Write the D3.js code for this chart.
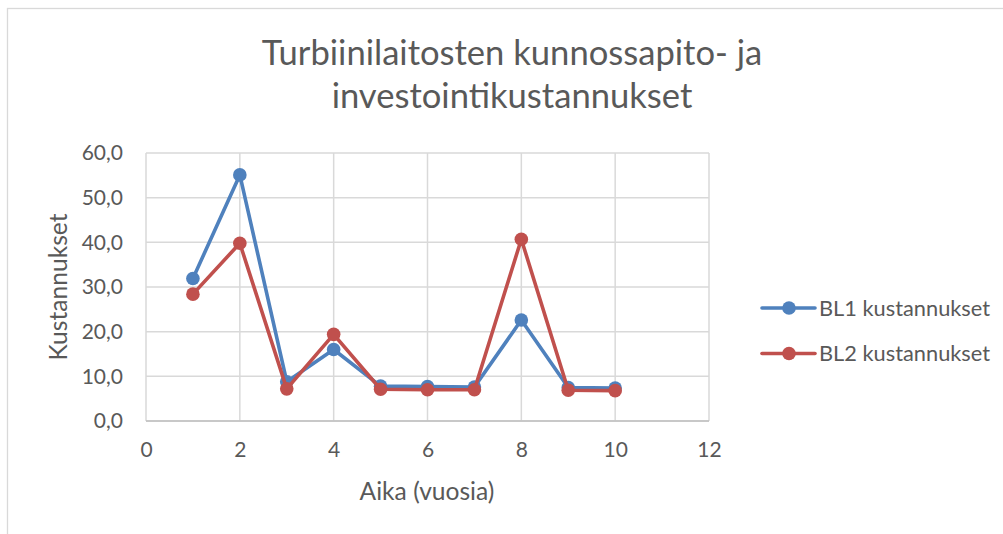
<!DOCTYPE html>
<html>
<head>
<meta charset="utf-8">
<script src="https://cdn.jsdelivr.net/npm/d3@7"></script>
<style>
  html, body { margin: 0; padding: 0; background: #fff; }
  svg { display: block; font-family: Lato, "Open Sans", sans-serif; }
</style>
</head>
<body>
<svg id="chart" width="1003" height="534"></svg>
<script>
// ---- Data ----
const years = [1, 2, 3, 4, 5, 6, 7, 8, 9, 10];
const bl1 = [31.9, 55.1, 8.8, 16.0, 7.8, 7.7, 7.6, 22.6, 7.5, 7.4];
const bl2 = [28.4, 39.8, 7.2, 19.4, 7.1, 7.0, 7.0, 40.7, 6.9, 6.8];
const seriesNames = ["BL1 kustannukset", "BL2 kustannukset"];
const xTicks = [0, 2, 4, 6, 8, 10, 12];
const yTicks = [0, 10, 20, 30, 40, 50, 60];
const titleLines = ["Turbiinilaitosten kunnossapito- ja", "investointikustannukset"];
const xTitle = "Aika (vuosia)";
const yTitle = "Kustannukset";

const colors = ["#4f81bd", "#c0504d"];
const textColor = "#595959";

const svg = d3.select("#chart");

// chart area border
svg.append("rect")
  .attr("x", 7.5).attr("y", 8.5)
  .attr("width", 1100).attr("height", 600)
  .attr("fill", "#fff").attr("stroke", "#d9d9d9").attr("stroke-width", 1.3);

const plot = { left: 146, right: 709, top: 153, bottom: 421 };

const x = d3.scaleLinear().domain([0, 12]).range([plot.left, plot.right]);
const y = d3.scaleLinear().domain([0, 60]).range([plot.bottom, plot.top]);

// gridlines
const g = svg.append("g");
g.selectAll("line.hg").data(yTicks).join("line")
  .attr("x1", plot.left).attr("x2", plot.right)
  .attr("y1", d => y(d)).attr("y2", d => y(d))
  .attr("stroke", "#d9d9d9").attr("stroke-width", 1.5);
g.selectAll("line.vg").data(xTicks).join("line")
  .attr("y1", plot.top).attr("y2", plot.bottom)
  .attr("x1", d => x(d)).attr("x2", d => x(d))
  .attr("stroke", "#d9d9d9").attr("stroke-width", 1.5);

// bottom axis line
svg.append("line")
  .attr("x1", plot.left).attr("x2", plot.right)
  .attr("y1", plot.bottom).attr("y2", plot.bottom)
  .attr("stroke", "#bfbfbf").attr("stroke-width", 1.5);

// axes via d3 axis (labels only)
const fmt = d => d3.format(".1f")(d).replace(".", ",");
const yAxis = svg.append("g")
  .attr("transform", `translate(${plot.left - 23},0)`)
  .call(d3.axisLeft(y).tickValues(yTicks).tickFormat(fmt).tickSize(0).tickPadding(0));
yAxis.select(".domain").remove();
yAxis.selectAll("text")
  .attr("fill", textColor).attr("font-size", 21)
  .attr("font-family", "Lato, sans-serif");

const xAxis = svg.append("g")
  .attr("transform", `translate(0,${plot.bottom + 21})`)
  .call(d3.axisBottom(x).tickValues(xTicks).tickFormat(d3.format("d")).tickSize(0).tickPadding(0));
xAxis.select(".domain").remove();
xAxis.selectAll("text")
  .attr("fill", textColor).attr("font-size", 21)
  .attr("font-family", "Lato, sans-serif");

// lines
const seriesData = [bl1, bl2];
const line = d3.line().x((d, i) => x(years[i])).y(d => y(d));
seriesData.forEach((vals, si) => {
  svg.append("path")
    .datum(vals)
    .attr("d", line)
    .attr("fill", "none")
    .attr("stroke", colors[si])
    .attr("stroke-width", 3.6)
    .attr("stroke-linejoin", "round")
    .attr("stroke-linecap", "round");
  svg.append("g").selectAll("circle").data(vals).join("circle")
    .attr("cx", (d, i) => x(years[i]))
    .attr("cy", d => y(d))
    .attr("r", 6.8)
    .attr("fill", colors[si]);
});

// title
svg.append("text")
  .attr("x", 512).attr("text-anchor", "middle")
  .attr("fill", textColor).attr("font-size", 34.6)
  .selectAll("tspan").data(titleLines).join("tspan")
  .attr("x", 512)
  .attr("y", (d, i) => 65 + i * 42.5)
  .text(d => d);

// axis titles
svg.append("text")
  .attr("x", 427).attr("y", 500)
  .attr("text-anchor", "middle")
  .attr("fill", textColor).attr("font-size", 24.6)
  .text(xTitle);

svg.append("text")
  .attr("transform", "translate(67,287) rotate(-90)")
  .attr("text-anchor", "middle")
  .attr("fill", textColor).attr("font-size", 24.6)
  .text(yTitle);

// legend
const legendY = [308, 353.5];
seriesNames.forEach((name, i) => {
  const lg = svg.append("g");
  lg.append("line")
    .attr("x1", 762).attr("x2", 815)
    .attr("y1", legendY[i]).attr("y2", legendY[i])
    .attr("stroke", colors[i]).attr("stroke-width", 3.6)
    .attr("stroke-linecap", "round");
  lg.append("circle")
    .attr("cx", 789).attr("cy", legendY[i]).attr("r", 6.8)
    .attr("fill", colors[i]);
  lg.append("text")
    .attr("x", 819).attr("y", legendY[i] + 7.8)
    .attr("fill", textColor).attr("font-size", 21.8)
    .text(name);
});
</script>
</body>
</html>
